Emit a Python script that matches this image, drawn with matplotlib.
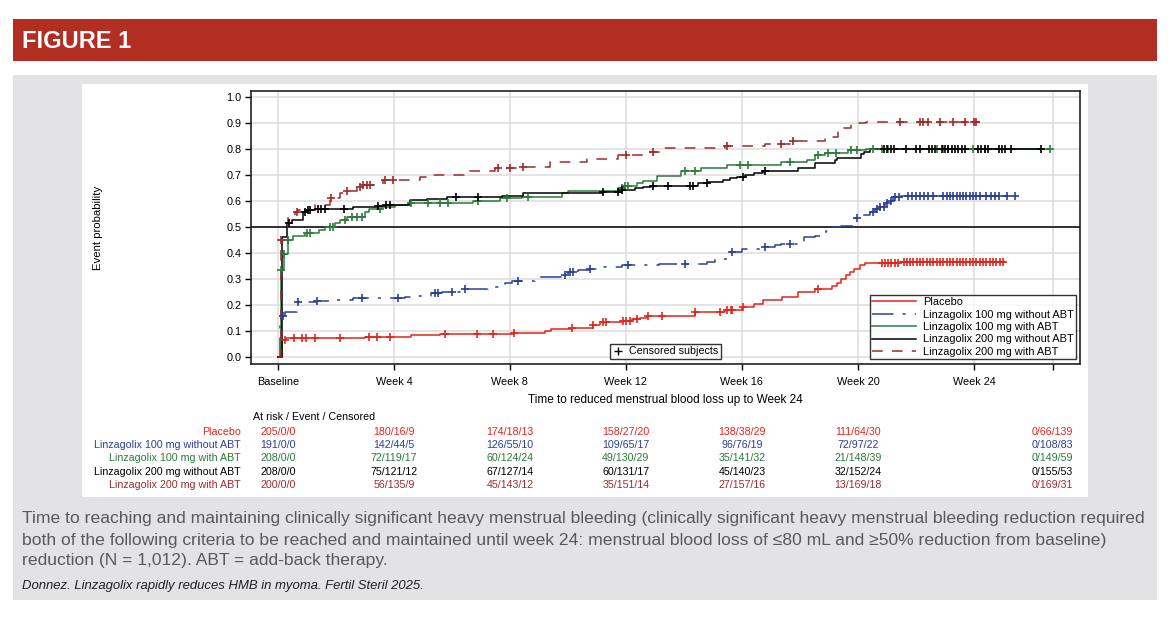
import numpy as np
import matplotlib
matplotlib.use("Agg")
import matplotlib.pyplot as plt
import matplotlib.transforms as mtransforms
from matplotlib.lines import Line2D
from matplotlib.patches import Rectangle

plt.rcParams['font.family'] = ['Liberation Sans', 'DejaVu Sans']

# Kaplan-Meier style step curves: time (days) and event probability after each step
placebo_t = [0, 0.9, 2, 21, 32, 39, 57, 64.4, 66, 71, 76, 77.7, 83, 85.5, 87.5, 89,
             100.6, 108, 112, 115, 117, 121.6, 125.5, 129.6, 133.7, 135, 136, 137, 138,
             139, 140.5, 141.7, 150, 175.5]
placebo_p = [0, 0.065, 0.074, 0.078, 0.083, 0.087, 0.093, 0.101, 0.106, 0.113, 0.123,
             0.133, 0.140, 0.145, 0.151, 0.158, 0.174, 0.180, 0.193, 0.205, 0.219,
             0.232, 0.250, 0.261, 0.273, 0.286, 0.300, 0.315, 0.327, 0.340, 0.352,
             0.360, 0.365, 0.365]
placebo_cens = [1.8, 3.8, 5.8, 6.7, 8.9, 15, 22, 24, 27, 40.3, 48, 52, 57, 71, 76, 78.5,
                79.3, 83.3, 84.1, 85, 86.6, 89.3, 92.6, 100.6, 106.7, 108.5, 109.4,
                109.7, 112.3, 130.4, 145.7, 146.5, 147.3, 148.1, 148.9, 149.7, 151.0,
                151.8, 152.6, 153.4, 154.2, 155.0, 155.8, 156.6, 157.4, 158.2, 159.0,
                159.8, 160.6, 161.4, 162.2, 163.0, 163.8, 164.6, 165.4, 166.2, 167.0,
                167.8, 168.6, 169.4, 170.2, 171.0, 171.8, 172.6, 173.4, 174.2, 175.0]

l100_t = [0, 0.5, 1.8, 4.5, 9.3, 13.8, 18, 30.6, 33, 37, 39.5, 45, 50.8, 54.8, 56.4, 62,
          68.9, 70, 72.5, 75, 77.7, 83, 92, 103.5, 105.5, 109, 112, 117, 120, 121.5,
          126.4, 127, 129.6, 132.4, 133.5, 136, 139.3, 141, 143, 144, 145.3, 146.5,
          147.7, 148.5, 150.5, 178]
l100_p = [0, 0.158, 0.174, 0.212, 0.216, 0.220, 0.225, 0.230, 0.235, 0.245, 0.250,
          0.260, 0.270, 0.283, 0.293, 0.306, 0.317, 0.328, 0.335, 0.340, 0.345, 0.352,
          0.356, 0.367, 0.376, 0.403, 0.414, 0.424, 0.429, 0.434, 0.443, 0.463, 0.466,
          0.486, 0.499, 0.503, 0.533, 0.546, 0.559, 0.568, 0.576, 0.591, 0.600, 0.614,
          0.619, 0.619]
l100_cens = [1.2, 4.8, 9.5, 20.2, 29, 37.9, 38.7, 42, 45.1, 58, 69.3, 70.5, 71.3, 75.3,
             84.6, 98.2, 109.5, 117.5, 123.6, 139.7, 143.7, 144.5, 145.3, 146.3, 147.1,
             148, 149, 150, 152, 153, 154, 155, 156, 157, 158, 160.6, 161.4, 162.2, 163,
             163.8, 164.6, 165.4, 166.2, 167, 167.8, 168.6, 169.4, 171, 172, 173, 174,
             175.9, 177.9]

l100abt_t = [0, 0.7, 1.5, 2.5, 3.7, 6.5, 10, 11.3, 13.8, 15, 16.6, 21, 22, 25, 28.2, 31.5,
             47, 53.6, 58.8, 68.5, 70, 82, 83.3, 86.6, 88, 91.5, 97.4, 102, 108.3, 121.5,
             127.6, 129.6, 132, 137.7, 142, 186.3]
l100abt_p = [0, 0.335, 0.396, 0.450, 0.465, 0.475, 0.488, 0.501, 0.514, 0.527, 0.540,
             0.559, 0.571, 0.578, 0.585, 0.593, 0.601, 0.610, 0.616, 0.629, 0.638, 0.649,
             0.658, 0.668, 0.678, 0.696, 0.715, 0.726, 0.737, 0.750, 0.758, 0.777, 0.786,
             0.796, 0.800, 0.800]
l100abt_cens = [0.7, 1.5, 2.5, 6.9, 7.7, 12.5, 13.4, 16.2, 17.8, 19, 20.2, 24.6, 32.2,
                36.2, 39, 41.1, 48.4, 55.2, 60.4, 83, 83.8, 84.6, 98.2, 100.6, 111.5,
                113.5, 123.6, 130.4, 132.8, 134.8, 138.4, 139.7, 143.7, 145.7, 147.3,
                159, 160.6, 161.8, 167.8, 170.7, 186.3]

l200_t = [0, 0.9, 2.3, 3.3, 6.1, 7, 8.9, 18.2, 24.2, 26, 31.9, 36.1, 40.7, 54, 59.2, 78.5,
          83, 86.2, 88, 90, 101.5, 103.9, 107.5, 109, 110.7, 112.7, 115, 117.1, 125.6,
          129.6, 134.4, 135, 140.8, 141.5, 143, 184.3]
l200_p = [0, 0.463, 0.514, 0.525, 0.559, 0.565, 0.571, 0.575, 0.581, 0.585, 0.604,
          0.607, 0.614, 0.619, 0.629, 0.636, 0.643, 0.649, 0.655, 0.658, 0.668, 0.674,
          0.681, 0.687, 0.694, 0.700, 0.707, 0.715, 0.726, 0.747, 0.758, 0.767, 0.782,
          0.790, 0.800, 0.800]
l200_cens = [2.7, 6.5, 7.3, 7.7, 9.7, 10.5, 11.3, 15.9, 24.2, 26.2, 27, 43.1, 48.4,
             78.5, 82.1, 83, 90.6, 94.2, 99.4, 100.2, 103.5, 112.3, 117.5, 146.3, 147.1,
             148, 148.8, 151.7, 154, 155, 157.1, 157.9, 158.7, 160.2, 161, 161.8, 162.6,
             163.4, 164.2, 165, 165.8, 169, 169.8, 170.6, 171.4, 174, 174.8, 175.6, 177,
             184.3]

l200abt_t = [0, 0.7, 2.5, 4.1, 4.9, 8.9, 12.5, 15, 16.6, 19, 20, 25.4, 34.3, 37.5, 45,
             52.4, 58.4, 65.6, 74.5, 82.1, 89.8, 93, 108, 117.5, 124, 132, 135.2, 138.4,
             142, 169.4]
l200abt_p = [0, 0.450, 0.540, 0.558, 0.565, 0.585, 0.610, 0.629, 0.640, 0.655, 0.660,
             0.681, 0.691, 0.700, 0.715, 0.726, 0.732, 0.751, 0.763, 0.777, 0.790, 0.802,
             0.812, 0.821, 0.831, 0.847, 0.879, 0.899, 0.902, 0.902]
l200abt_cens = [0.7, 4.5, 12.7, 16.6, 19.8, 20.6, 21.4, 22.2, 25.8, 27.8, 53.2, 56,
                59.2, 84.1, 90.6, 108.5, 121.5, 124.4, 150.1, 155, 155.7, 157, 159.8,
                163, 165.8, 168, 168.6]

groups = ["Placebo", "Linzagolix 100 mg without ABT", "Linzagolix 100 mg with ABT",
          "Linzagolix 200 mg without ABT", "Linzagolix 200 mg with ABT"]
colors = ['#e2261d', '#2c3f98', '#2b7b3a', '#000000', '#a02a2a']
styles = ['-', (0, (14, 6, 2, 6)), '-', '-', (0, (7, 6))]

tick_days = [0, 28, 56, 84, 112, 140, 168, 187]
tick_labels = ["Baseline", "Week 4", "Week 8", "Week 12", "Week 16", "Week 20", "Week 24", ""]

risk_days = [0, 28, 56, 84, 112, 140, 187]
placebo_risk = ["205/0/0", "180/16/9", "174/18/13", "158/27/20", "138/38/29", "111/64/30", "0/66/139"]
l100_risk = ["191/0/0", "142/44/5", "126/55/10", "109/65/17", "96/76/19", "72/97/22", "0/108/83"]
l100abt_risk = ["208/0/0", "72/119/17", "60/124/24", "49/130/29", "35/141/32", "21/148/39", "0/149/59"]
l200_risk = ["208/0/0", "75/121/12", "67/127/14", "60/131/17", "45/140/23", "32/152/24", "0/155/53"]
l200abt_risk = ["200/0/0", "56/135/9", "45/143/12", "35/151/14", "27/157/16", "13/169/18", "0/169/31"]

curves = [(placebo_t, placebo_p, placebo_cens), (l100_t, l100_p, l100_cens),
          (l100abt_t, l100abt_p, l100abt_cens), (l200_t, l200_p, l200_cens),
          (l200abt_t, l200abt_p, l200abt_cens)]
risks = [placebo_risk, l100_risk, l100abt_risk, l200_risk, l200abt_risk]

W, H = 1171, 621
fig = plt.figure(figsize=(W / 100, H / 100), dpi=100)


def box(x0, y0, x1, y1, color):
    fig.add_artist(Rectangle((x0 / W, 1 - y1 / H), (x1 - x0) / W, (y1 - y0) / H,
                             transform=fig.transFigure, color=color, lw=0, zorder=0))


box(13, 19, 1157, 61, '#b22d22')
box(13, 75, 1157, 600, '#e3e3e5')
box(82, 84, 1088, 497, 'white')

fig.text(22 / W, 1 - 41 / H, "FIGURE 1", color='white', fontsize=17, fontweight='bold',
         va='center', ha='left', family=['Liberation Sans Narrow', 'Liberation Sans'])

ax = fig.add_axes([251 / W, 1 - 364 / H, 829 / W, 273 / H])
ax.set_xlim(-6.5, 193.6)
ax.set_ylim(-0.027, 1.023)
ax.set_axisbelow(True)
ax.grid(True, color='#dcdcdc', lw=1.1)
ax.axhline(0.5, color='black', lw=1.1, zorder=1)

for (t, p, cens), col, ls, name in zip(curves, colors, styles, groups):
    ax.step(t, p, where='post', color=col, lw=1.1, ls=ls, zorder=3)
    t_arr = np.array(t)
    idx = np.searchsorted(t_arr, cens, side='right') - 1
    cy = np.array(p)[idx]
    ax.plot(cens, cy, ls='none', marker='+', ms=6, mew=1.2, color=col, zorder=4)

ax.set_xticks(tick_days)
ax.set_xticklabels(tick_labels, fontsize=7.8)
ax.set_yticks(np.round(np.arange(0, 1.01, 0.1), 1))
ax.set_yticklabels([f"{v:.1f}" for v in np.arange(0, 1.01, 0.1)], fontsize=7.8)
ax.tick_params(axis='x', length=4, width=1, pad=5.5)
ax.tick_params(axis='y', length=4, width=1, pad=3)
for s in ax.spines.values():
    s.set_linewidth(1.2)
    s.set_color('#222222')

handles = [Line2D([], [], color=c, lw=1.1, ls=ls) for c, ls in zip(colors, styles)]
leg = ax.legend(handles, groups, loc='lower right', bbox_to_anchor=(0.995, 0.018),
                fontsize=7.9, frameon=True, fancybox=False, edgecolor='black',
                borderpad=0.2, handlelength=4.0, handletextpad=0.6, labelspacing=0.22,
                borderaxespad=0)
leg.get_frame().set_linewidth(1)
ax.add_artist(leg)
cleg = ax.legend([Line2D([], [], color='black', ls='none', marker='+', ms=6, mew=1)],
                 ["Censored subjects"], loc='lower left', bbox_to_anchor=(0.433, 0.018),
                 fontsize=7.7, frameon=True, fancybox=False, edgecolor='black',
                 borderpad=0.25, handlelength=1.0, handletextpad=0.5, borderaxespad=0)
cleg.get_frame().set_linewidth(1)

fig.text(98 / W, 1 - 228 / H, "Event probability", rotation=90, fontsize=8.2,
         va='center', ha='center')
fig.text(665.5 / W, 1 - 400 / H, "Time to reduced menstrual blood loss up to Week 24",
         fontsize=8.5, va='center', ha='center')

# at-risk table
fig.text(253 / W, 1 - 417 / H, "At risk / Event / Censored", fontsize=7.7,
         va='center', ha='left')
trans = mtransforms.blended_transform_factory(ax.transData, fig.transFigure)
row_y = [432, 445.2, 458.4, 471.6, 484.8]
for name, col, vals, ry in zip(groups, colors, risks, row_y):
    fig.text(241 / W, 1 - ry / H, name, color=col, fontsize=7.7, va='center', ha='right')
    for d, v in zip(risk_days, vals):
        fig.text(d, 1 - ry / H, v, color=col, fontsize=7.7, va='center', ha='center',
                 transform=trans)

# caption
cap_lines = [
    "Time to reaching and maintaining clinically significant heavy menstrual bleeding "
    "(clinically significant heavy menstrual bleeding reduction required",
    "both of the following criteria to be reached and maintained until week 24: menstrual "
    "blood loss of \u226480 mL and \u226550% reduction from baseline)",
    "reduction (N = 1,012). ABT = add-back therapy.",
]
cap_y = [519, 540, 561]
cap_texts = [fig.text(22 / W, 1 - y / H, s, fontsize=12, color='#58595b', va='center',
                      ha='left') for s, y in zip(cap_lines, cap_y)]
cite = fig.text(22 / W, 1 - 586 / H,
                "Donnez. Linzagolix rapidly reduces HMB in myoma. Fertil Steril 2025.",
                fontsize=9, style='italic', color='#231f20', va='center', ha='left')

# fit caption widths to the panel
fig.canvas.draw()
r = fig.canvas.get_renderer()
w1 = cap_texts[0].get_window_extent(r).width
fs = 12 * 1128 / w1
for t in cap_texts:
    t.set_fontsize(fs)
wc = cite.get_window_extent(r).width
cite.set_fontsize(9 * 405 / wc)

fig.savefig("out.png", dpi=100)
